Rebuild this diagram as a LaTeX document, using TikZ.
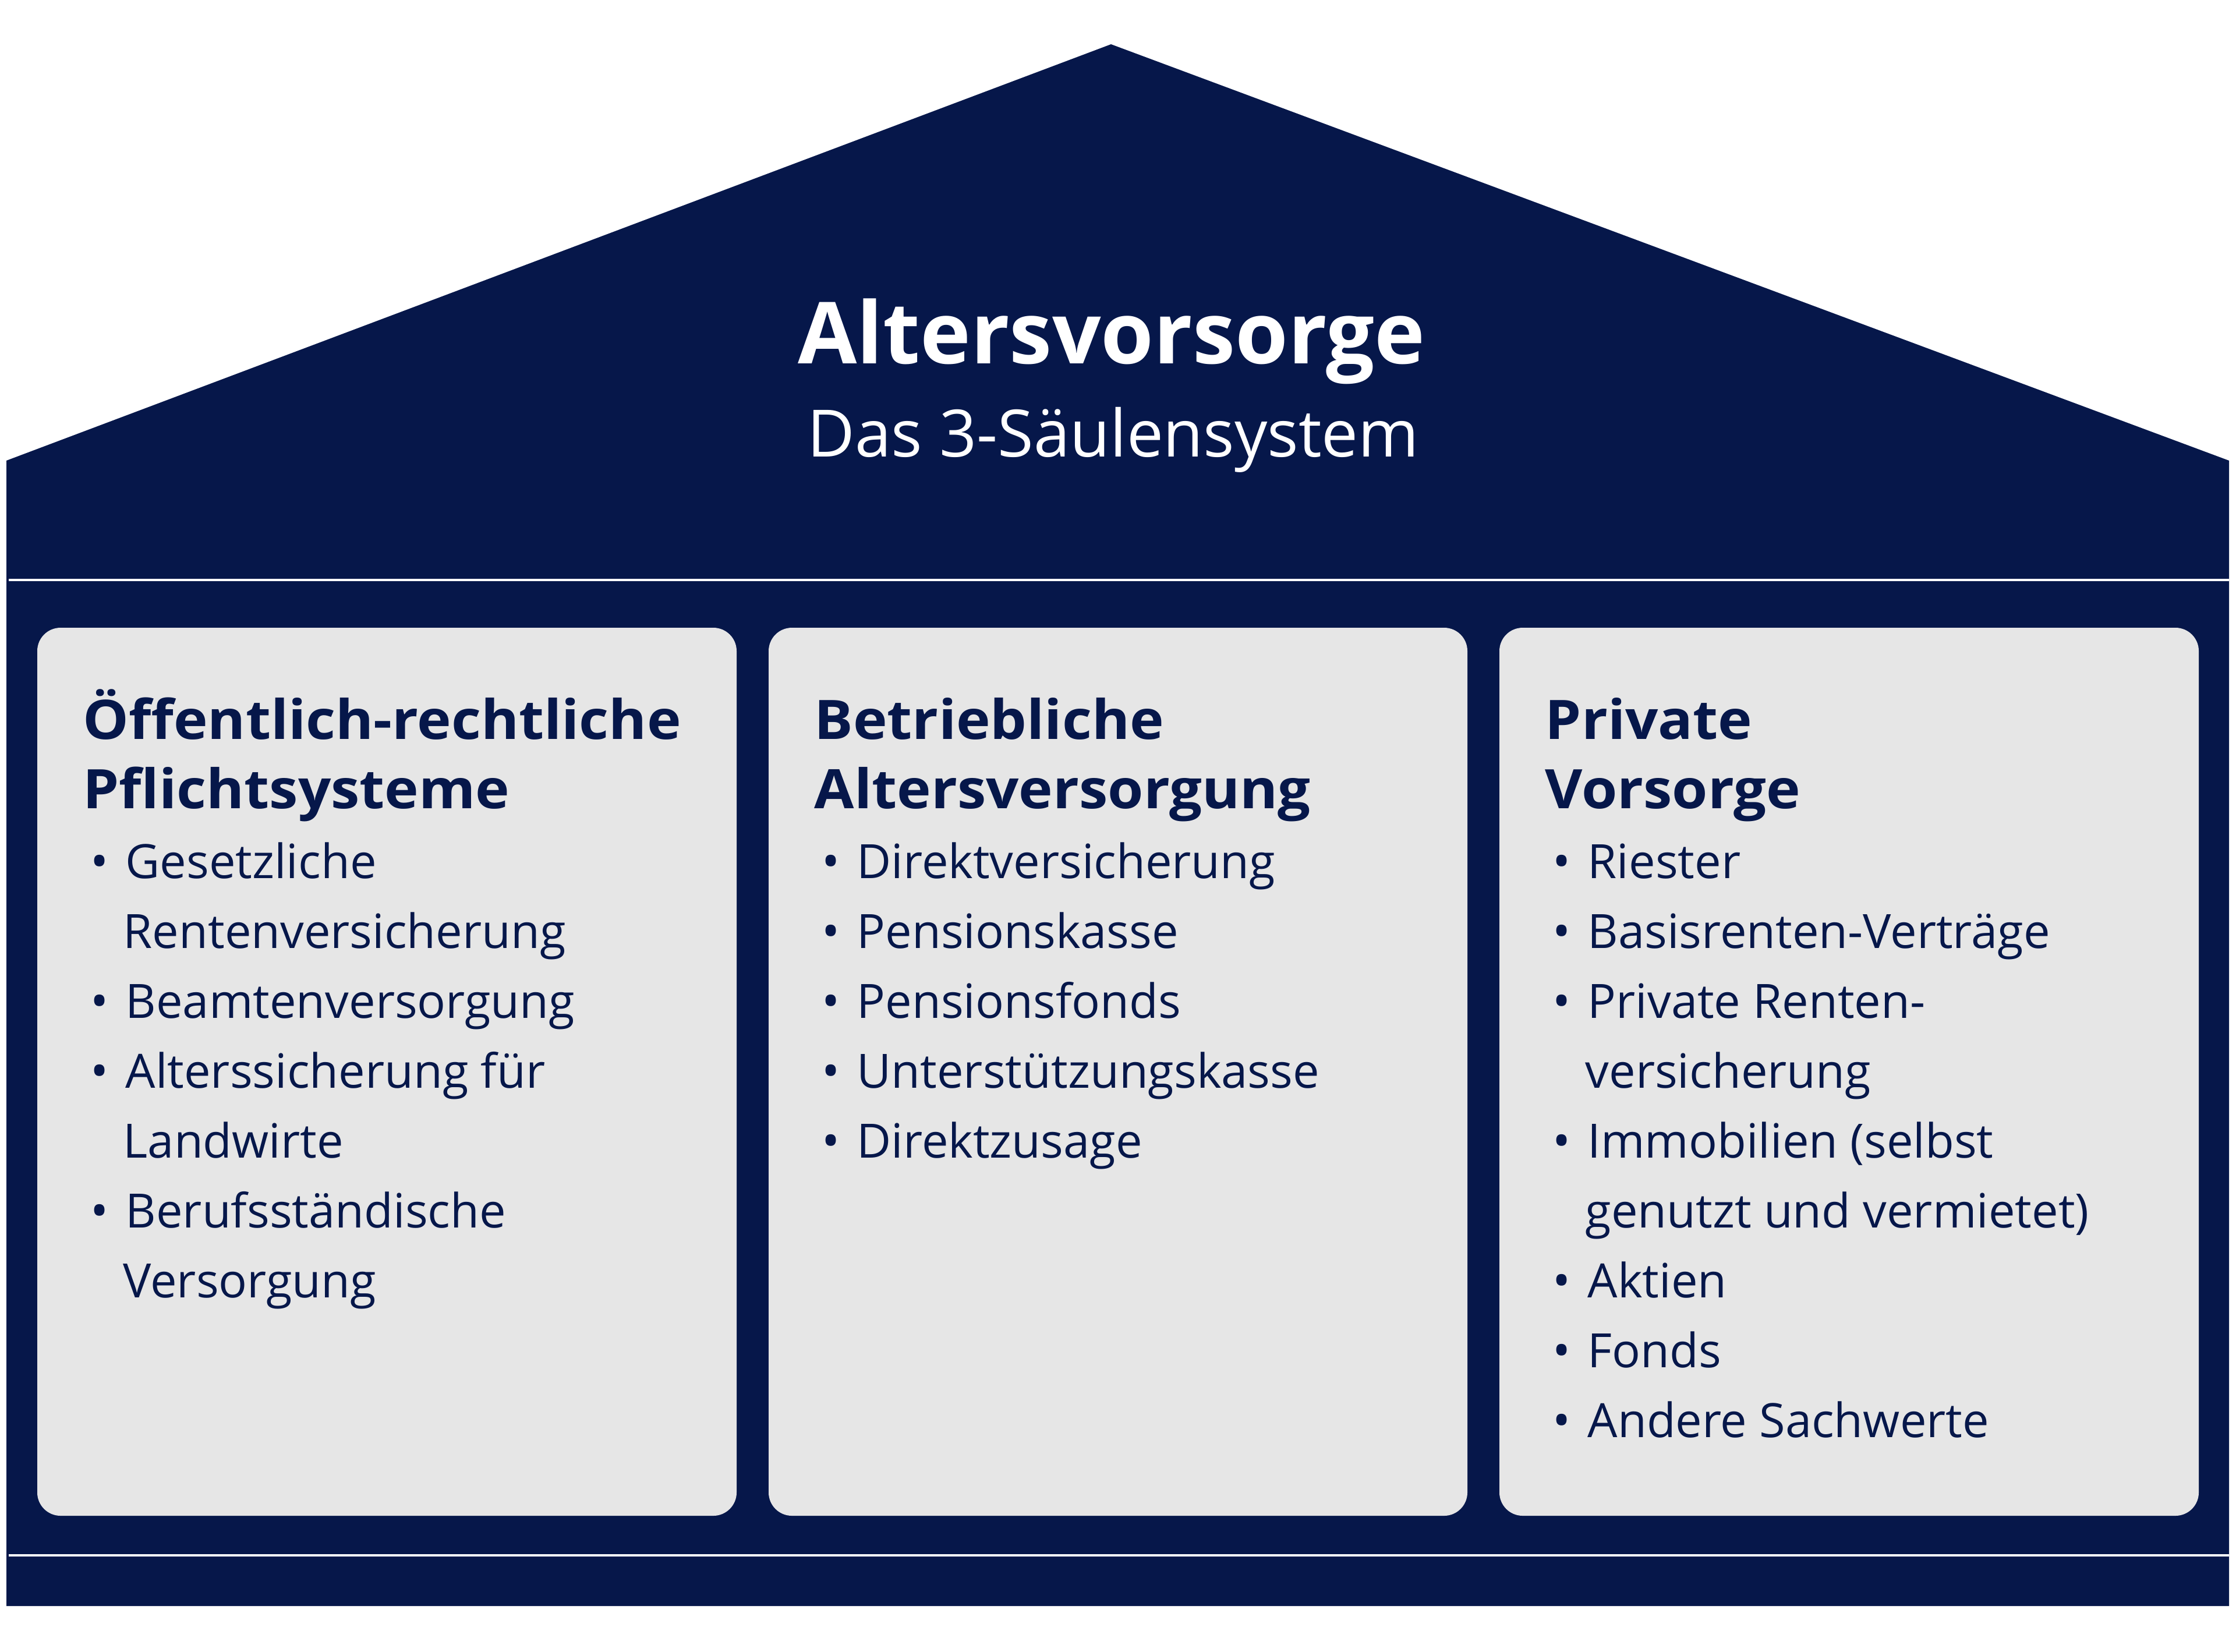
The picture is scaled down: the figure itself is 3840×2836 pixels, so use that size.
\documentclass[tikz,border=0pt]{standalone}
\usepackage{fontspec}
\setmainfont{Open Sans}
\newfontfamily\headfont{Open Sans}[FakeStretch=1.06]
\definecolor{navy}{RGB}{6,23,74}
\definecolor{boxgray}{RGB}{230,230,230}
\tikzset{
  housefill/.style={fill=navy, draw=none},
  sepline/.style={draw=white, line width=1pt},
  pillar/.style={fill=boxgray, draw=none, rounded corners=4mm},
  titletext/.style={anchor=base, inner sep=0pt, text=white, font=\fontsize{41.8}{50}\selectfont\bfseries},
  subtext/.style={anchor=base, inner sep=0pt, text=white, font=\fontsize{31.9}{38}\selectfont},
  head/.style={anchor=base west, inner sep=0pt, text=navy, font=\headfont\fontsize{26.6}{31}\selectfont\bfseries},
  item/.style={anchor=base west, inner sep=0pt, text=navy, font=\fontsize{23.1}{28}\selectfont},
  dot/.style={anchor=base, inner sep=0pt, text=navy, font=\fontsize{23.5}{28}\selectfont},
}
\begin{document}
\begin{tikzpicture}[x=0.01cm, y=-0.01cm]
\useasboundingbox (0,0) rectangle (3840,2836);
% house
\path[housefill] (11,791) -- (1908,76) -- (3828,791) -- (3828,2758) -- (11,2758) -- cycle;
\coordinate (s1a) at (15,996);
\coordinate (s1b) at (3828,996);
\coordinate (s2a) at (15,2671);
\coordinate (s2b) at (3828,2671);
\draw[sepline] (s1a) -- (s1b);
\draw[sepline, line width=1.2pt] (s2a) -- (s2b);
% title
\node[titletext] (title) at (1909,624) {Altersvorsorge};
\node[subtext] (subtitle) at (1912,784) {Das 3-Säulensystem};
% pillars
\path[pillar] (64,1078) rectangle (1265,2603);
\path[pillar] (1320,1078) rectangle (2520,2603);
\path[pillar] (2575,1078) rectangle (3776,2603);
% pillar 1
\begin{scope}[shift={(64,0)}]
\node[head] (a0) at (78,1269) {Öffentlich-rechtliche};
\node[head] (a1) at (78,1388) {Pflichtsysteme};
\node[dot] (ad1) at (107,1508) {•};
\node[item] (a2) at (151,1508) {Gesetzliche};
\node[item] (a3) at (147,1628) {Rentenversicherung};
\node[dot] (ad2) at (107,1748) {•};
\node[item] (a4) at (151,1748) {Beamtenversorgung};
\node[dot] (ad3) at (107,1868) {•};
\node[item] (a5) at (151,1868) {Alterssicherung für};
\node[item] (a6) at (147,1988) {Landwirte};
\node[dot] (ad4) at (107,2108) {•};
\node[item] (a7) at (151,2108) {Berufsständische};
\node[item] (a8) at (147,2228) {Versorgung};
\end{scope}
% pillar 2
\begin{scope}[shift={(1320,0)}]
\node[head] (b0) at (78,1269) {Betriebliche};
\node[head] (b1) at (78,1388) {Altersversorgung};
\node[dot] (bd1) at (107,1508) {•};
\node[item] (b2) at (151,1508) {Direktversicherung};
\node[dot] (bd2) at (107,1628) {•};
\node[item] (b3) at (151,1628) {Pensionskasse};
\node[dot] (bd3) at (107,1748) {•};
\node[item] (b4) at (151,1748) {Pensionsfonds};
\node[dot] (bd4) at (107,1868) {•};
\node[item] (b5) at (151,1868) {Unterstützungskasse};
\node[dot] (bd5) at (107,1988) {•};
\node[item] (b6) at (151,1988) {Direktzusage};
\end{scope}
% pillar 3
\begin{scope}[shift={(2575,0)}]
\node[head] (c0) at (78,1269) {Private};
\node[head] (c1) at (78,1388) {Vorsorge};
\node[dot] (cd1) at (107,1508) {•};
\node[item] (c2) at (151,1508) {Riester};
\node[dot] (cd2) at (107,1628) {•};
\node[item] (c3) at (151,1628) {Basisrenten-Verträge};
\node[dot] (cd3) at (107,1748) {•};
\node[item] (c4) at (151,1748) {Private Renten-};
\node[item] (c5) at (147,1868) {versicherung};
\node[dot] (cd4) at (107,1988) {•};
\node[item] (c6) at (151,1988) {Immobilien (selbst};
\node[item] (c7) at (147,2108) {genutzt und vermietet)};
\node[dot] (cd5) at (107,2228) {•};
\node[item] (c8) at (151,2228) {Aktien};
\node[dot] (cd6) at (107,2348) {•};
\node[item] (c9) at (151,2348) {Fonds};
\node[dot] (cd7) at (107,2468) {•};
\node[item] (c10) at (151,2468) {Andere Sachwerte};
\end{scope}
\end{tikzpicture}
\end{document}
